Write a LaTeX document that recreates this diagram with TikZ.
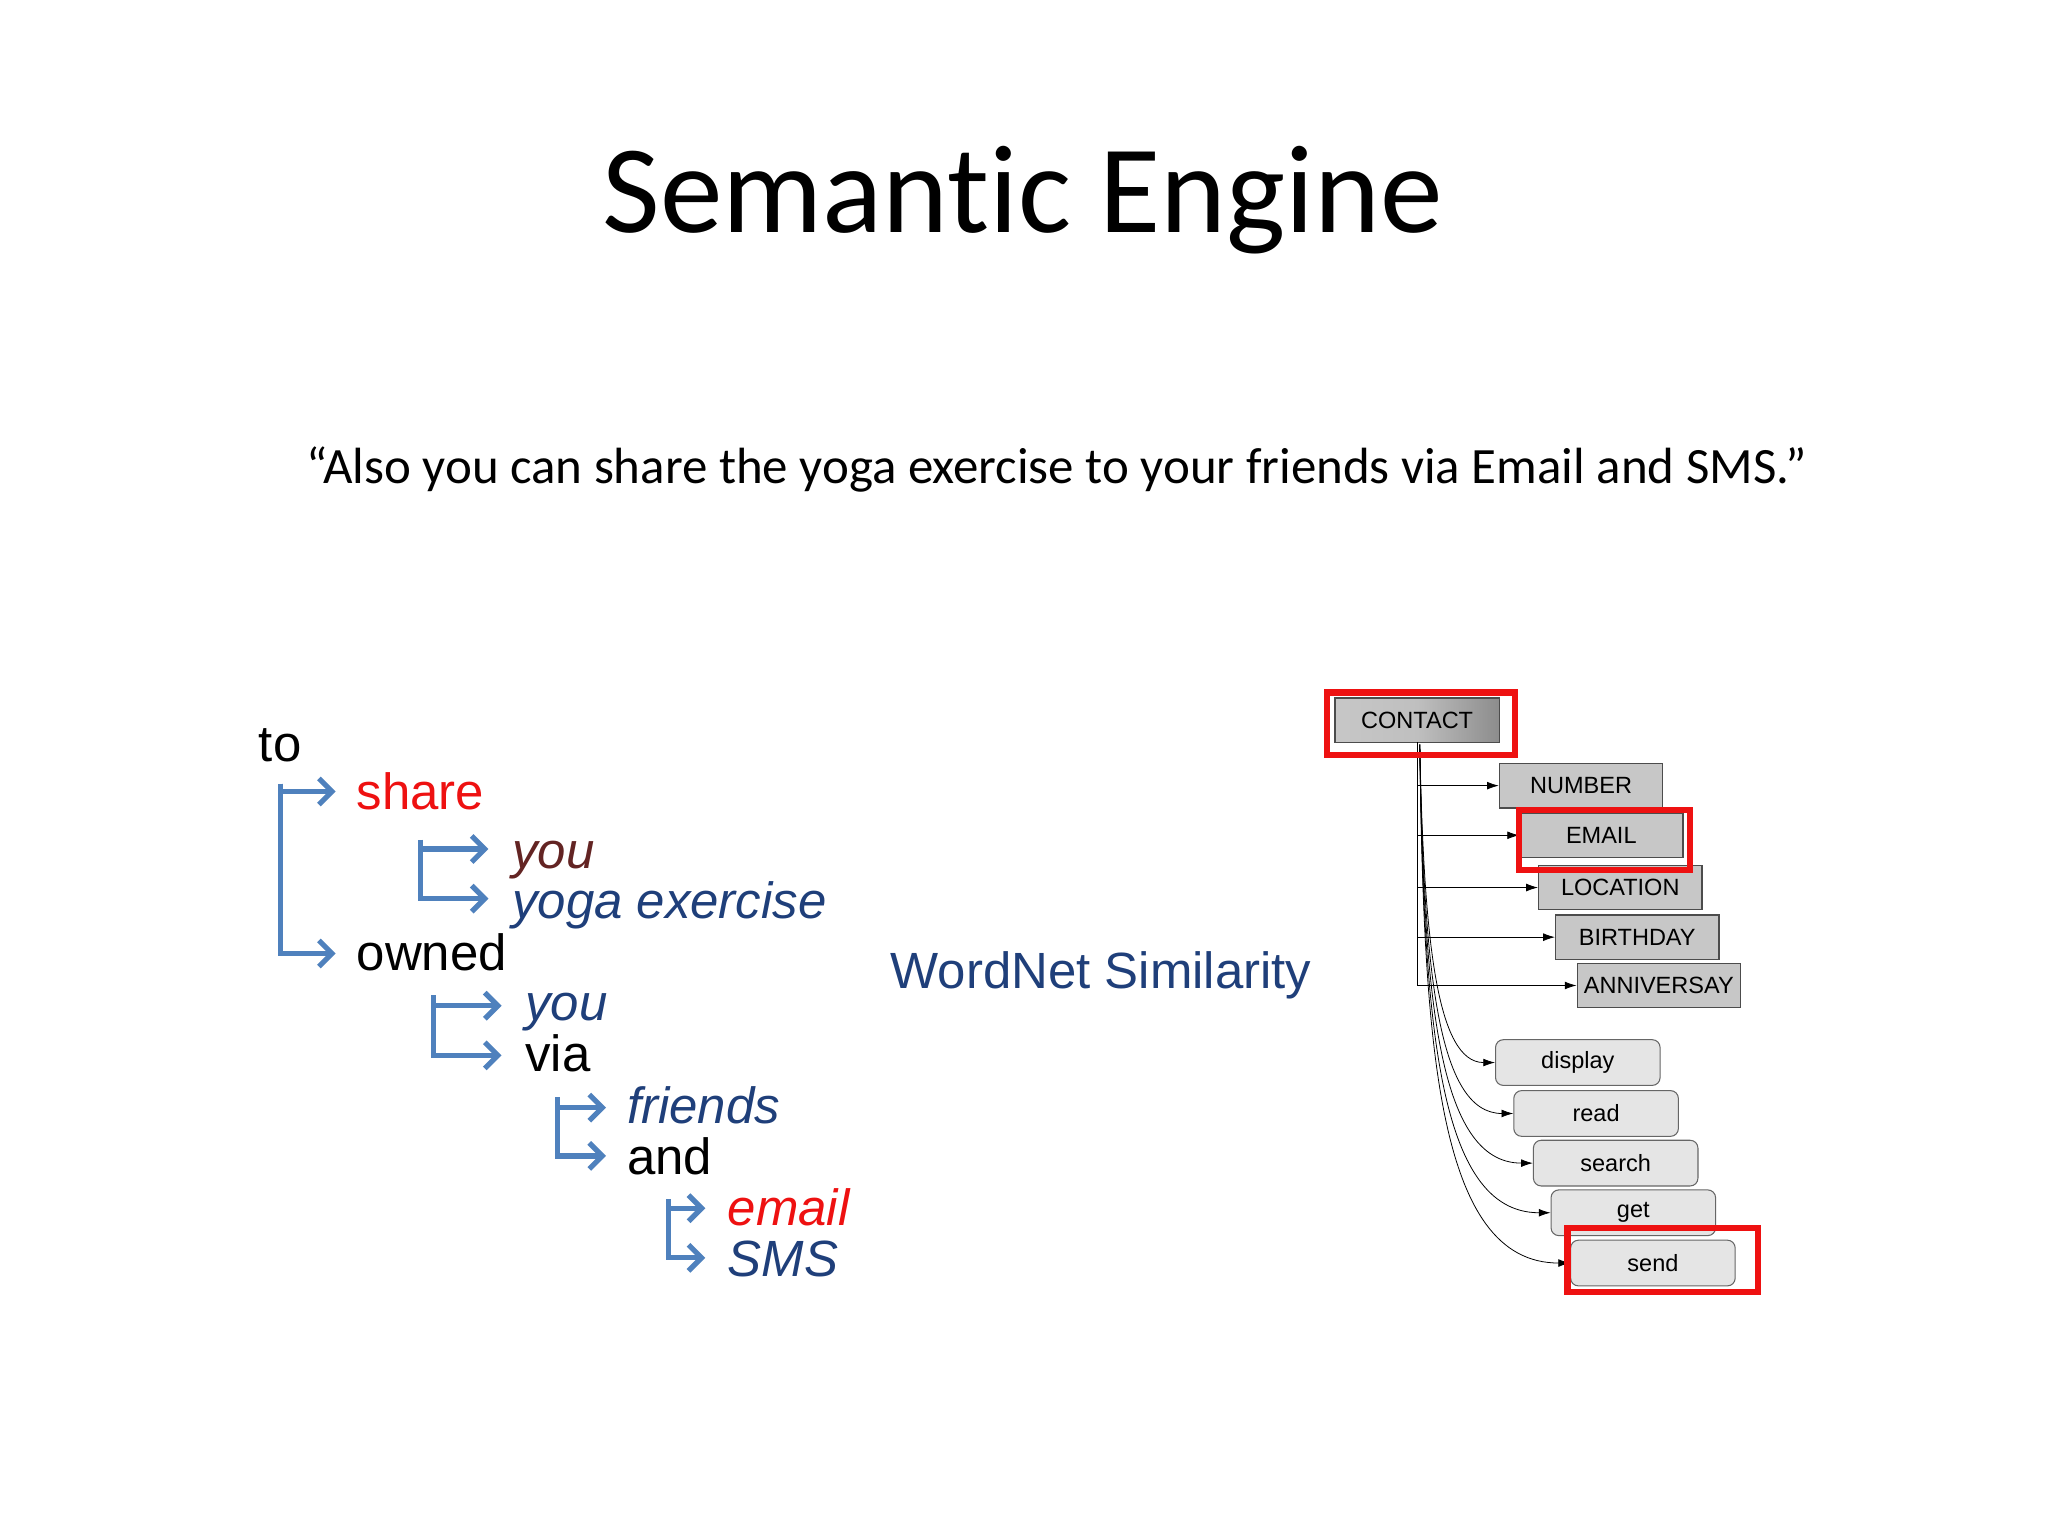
\documentclass[tikz,border=0pt]{standalone}
\usepackage{fontspec}
\setmainfont{Liberation Sans}
\newfontfamily\calib[Ligatures=NoCommon]{Carlito}
\usetikzlibrary{arrows.meta}
\definecolor{bl}{HTML}{4F81BD}
\definecolor{dkblue}{HTML}{1F3F7A}
\definecolor{brn}{HTML}{632423}
\definecolor{rd}{HTML}{EE1111}
\tikzset{
 br/.style={bl,line width=4pt,-{Straight Barb[length=10pt,width=20pt,line width=4pt]}},
 word/.style={anchor=base west,inner sep=0pt,font=\fontsize{39}{41}\selectfont},
 iword/.style={word,font=\itshape\fontsize{39}{41}\selectfont},
 sq/.style={draw=black!70,line width=1pt,fill=black!22,minimum width=125pt,minimum height=34pt,inner sep=0pt,font=\fontsize{18}{20}\selectfont},
 rb/.style={draw=black!60,line width=0.8pt,fill=black!10,rounded corners=6pt,minimum width=126pt,minimum height=35pt,inner sep=0pt,font=\fontsize{18}{20}\selectfont},
 redbox/.style={draw=rd,line width=5pt},
 ar/.style={black,line width=0.6pt,-{Latex[length=9pt,width=6pt]}}
}
\begin{document}
\begin{tikzpicture}[x=1pt,y=-1pt]
\useasboundingbox[fill=white] (0,0) rectangle (1568,1176);
\node[anchor=base,inner sep=0pt,font=\calib\fontsize{96}{98}\selectfont] (title) at (783,178) {Semant\kern0pt ic Engine};
\node[anchor=base,inner sep=0pt,font=\calib\fontsize{39}{41}\selectfont] (quote) at (809,370) {“Also you can share the yoga exercise to your friends via Email and SMS.”};
% left tree
\node[word] (to) at (198,583) {to};
\node[word,text=rd] (share) at (273,620) {share};
\node[iword,text=brn] (you1) at (392,665) {you};
\node[iword,text=dkblue] (yoga) at (392,703) {yoga exercise};
\node[word] (owned) at (273,743) {owned};
\node[iword,text=dkblue] (you2) at (402,781) {you};
\node[word] (via) at (402,820) {via};
\node[iword,text=dkblue] (friends) at (480,860) {friends};
\node[word] (and) at (480,899) {and};
\node[iword,text=rd] (email) at (557,938) {email};
\node[iword,text=dkblue] (sms) at (557,977) {SMS};
\coordinate (a0) at (215,600);
\draw[br] (a0) |- (257,606);
\draw[br] (a0) |- (257,730);
\coordinate (b0) at (322,643);
\draw[br] (b0) |- (374,650);
\draw[br] (b0) |- (374,688);
\coordinate (c0) at (332,762);
\draw[br] (c0) |- (384,770);
\draw[br] (c0) |- (384,808);
\coordinate (d0) at (427,840);
\draw[br] (d0) |- (464,848);
\draw[br] (d0) |- (464,885);
\coordinate (e0) at (512,918);
\draw[br] (e0) |- (540,925);
\draw[br] (e0) |- (540,963);
\node[anchor=base,inner sep=0pt,text=dkblue,font=\fontsize{39}{41}\selectfont] (wn) at (843,757) {WordNet Similarity};
% right diagram
\node[sq,left color=black!22,right color=black!45,middle color=black!25,minimum width=126pt] (contact) at (1085,551.5) {CONTACT};
\node[sq] (number) at (1210.5,601.5) {NUMBER};
\node[sq] (location) at (1240.5,679.5) {LOCATION};
\node[sq] (emailb) at (1226,639.5) {EMAIL};
\node[sq] (birthday) at (1253.5,717.5) {BIRTHDAY};
\node[sq] (anniv) at (1270,754.5) {ANNIVERSAY};
\node[rb] (display) at (1208,813.5) {display};
\node[rb] (read) at (1222,852.5) {read};
\node[rb] (search) at (1237,890.5) {search};
\node[rb] (get) at (1250.5,928.5) {get};
\node[rb] (send) at (1265.5,967) {send};
\coordinate (trunk) at (1085,568);
\draw[black,line width=0.8pt] (trunk) -- (1085,755);
\foreach \n in {number,emailb,location,birthday,anniv}
  \draw[ar] (1085,0 |- \n.west) -- (\n.west);
\foreach \n/\c in {display/720,read/740,search/760,get/780,send/800}
  \draw[ar] (1087,570) .. controls (1090,\c) and (1100,0 |- \n.west) .. (\n.west);
\node[redbox,minimum width=144pt,minimum height=48pt,inner sep=0pt] (r1) at (1088,554) {};
\node[redbox,minimum width=131pt,minimum height=46pt,inner sep=0pt] (r2) at (1228.5,643) {};
\node[redbox,minimum width=146pt,minimum height=49pt,inner sep=0pt] (r3) at (1273,964.5) {};
\end{tikzpicture}
\end{document}
